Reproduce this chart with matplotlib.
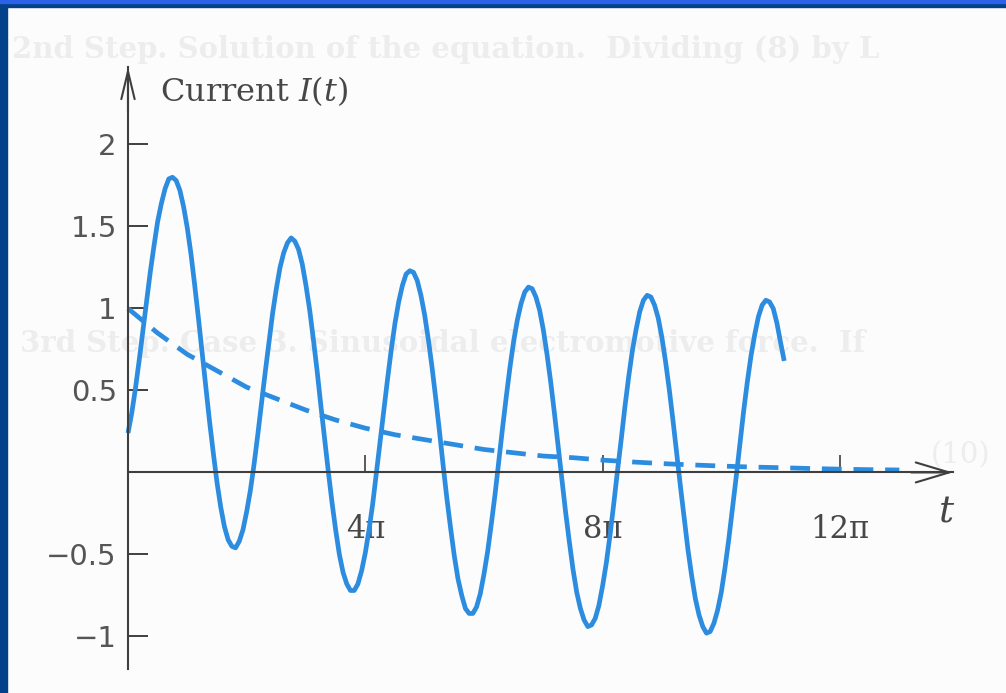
import matplotlib.pyplot as plt
from matplotlib.patches import Rectangle

plt.rcParams['mathtext.fontset'] = 'dejavuserif'

#////////////////////////////// DATOS //////////////////////////////
# tiempo en unidades de pi, una fila por cada pi
t_corriente = [
    0.0, 0.0625, 0.125, 0.1875, 0.25, 0.3125, 0.375, 0.4375, 0.5, 0.5625, 0.625, 0.6875, 0.75, 0.8125, 0.875, 0.9375,
    1.0, 1.0625, 1.125, 1.1875, 1.25, 1.3125, 1.375, 1.4375, 1.5, 1.5625, 1.625, 1.6875, 1.75, 1.8125, 1.875, 1.9375,
    2.0, 2.0625, 2.125, 2.1875, 2.25, 2.3125, 2.375, 2.4375, 2.5, 2.5625, 2.625, 2.6875, 2.75, 2.8125, 2.875, 2.9375,
    3.0, 3.0625, 3.125, 3.1875, 3.25, 3.3125, 3.375, 3.4375, 3.5, 3.5625, 3.625, 3.6875, 3.75, 3.8125, 3.875, 3.9375,
    4.0, 4.0625, 4.125, 4.1875, 4.25, 4.3125, 4.375, 4.4375, 4.5, 4.5625, 4.625, 4.6875, 4.75, 4.8125, 4.875, 4.9375,
    5.0, 5.0625, 5.125, 5.1875, 5.25, 5.3125, 5.375, 5.4375, 5.5, 5.5625, 5.625, 5.6875, 5.75, 5.8125, 5.875, 5.9375,
    6.0, 6.0625, 6.125, 6.1875, 6.25, 6.3125, 6.375, 6.4375, 6.5, 6.5625, 6.625, 6.6875, 6.75, 6.8125, 6.875, 6.9375,
    7.0, 7.0625, 7.125, 7.1875, 7.25, 7.3125, 7.375, 7.4375, 7.5, 7.5625, 7.625, 7.6875, 7.75, 7.8125, 7.875, 7.9375,
    8.0, 8.0625, 8.125, 8.1875, 8.25, 8.3125, 8.375, 8.4375, 8.5, 8.5625, 8.625, 8.6875, 8.75, 8.8125, 8.875, 8.9375,
    9.0, 9.0625, 9.125, 9.1875, 9.25, 9.3125, 9.375, 9.4375, 9.5, 9.5625, 9.625, 9.6875, 9.75, 9.8125, 9.875, 9.9375,
    10.0, 10.0625, 10.125, 10.1875, 10.25, 10.3125, 10.375, 10.4375, 10.5, 10.5625, 10.625, 10.6875, 10.75, 10.8125, 10.875, 10.9375,
    11.0, 11.06]
corriente = [
    0.24, 0.36, 0.51, 0.68, 0.86, 1.04, 1.22, 1.38, 1.53, 1.64, 1.73, 1.79, 1.80, 1.78, 1.72, 1.62,
    1.49, 1.33, 1.14, 0.94, 0.73, 0.52, 0.31, 0.12, -0.06, -0.21, -0.33, -0.41, -0.45, -0.46, -0.42, -0.35,
    -0.24, -0.11, 0.05, 0.23, 0.42, 0.61, 0.79, 0.97, 1.12, 1.25, 1.34, 1.40, 1.43, 1.41, 1.36, 1.27,
    1.14, 0.99, 0.81, 0.62, 0.41, 0.21, 0.01, -0.18, -0.35, -0.50, -0.61, -0.68, -0.72, -0.72, -0.68, -0.60,
    -0.49, -0.35, -0.19, 0.00, 0.19, 0.38, 0.57, 0.75, 0.91, 1.04, 1.14, 1.21, 1.23, 1.22, 1.17, 1.08,
    0.96, 0.81, 0.64, 0.45, 0.25, 0.04, -0.16, -0.34, -0.51, -0.65, -0.75, -0.83, -0.86, -0.86, -0.82, -0.74,
    -0.62, -0.48, -0.31, -0.13, 0.07, 0.27, 0.46, 0.64, 0.80, 0.93, 1.03, 1.10, 1.13, 1.12, 1.07, 0.99,
    0.87, 0.72, 0.55, 0.36, 0.16, -0.04, -0.24, -0.42, -0.59, -0.73, -0.83, -0.90, -0.94, -0.93, -0.89, -0.81,
    -0.69, -0.55, -0.38, -0.19, 0.01, 0.20, 0.40, 0.58, 0.74, 0.87, 0.98, 1.05, 1.08, 1.07, 1.02, 0.94,
    0.82, 0.67, 0.50, 0.31, 0.11, -0.09, -0.28, -0.47, -0.63, -0.77, -0.87, -0.94, -0.98, -0.97, -0.92, -0.84,
    -0.73, -0.58, -0.41, -0.22, -0.03, 0.17, 0.37, 0.55, 0.71, 0.84, 0.95, 1.02, 1.05, 1.04, 1.00, 0.91,
    0.79, 0.68]

# curva punteada (transitorio)
t_trans = [0.0, 0.5, 1.0, 1.5, 2.0, 2.5, 3.0, 3.5, 4.0, 4.5, 5.0, 5.5, 6.0, 6.5,
           7.0, 7.5, 8.0, 8.5, 9.0, 9.5, 10.0, 10.5, 11.0, 11.5, 12.0, 12.5, 13.0]
transitorio = [1.0, 0.85, 0.72, 0.62, 0.52, 0.45, 0.38, 0.32, 0.27, 0.23, 0.20, 0.17,
               0.14, 0.12, 0.10, 0.09, 0.075, 0.064, 0.054, 0.046, 0.039, 0.033, 0.029,
               0.024, 0.020, 0.017, 0.015]

y_ticks = [-1, -0.5, 0.5, 1, 1.5, 2]
y_labels = ['\u22121', '\u22120.5', '0.5', '1', '1.5', '2']
x_ticks = [4, 8, 12]
x_labels = ['4\u03c0', '8\u03c0', '12\u03c0']

azul = '#2c8de0'
gris = '#3f3f3f'
fondo = '#fcfcfc'
fantasma = '#ededed'

#////////////////////////////// GRAFICO //////////////////////////////
fig = plt.figure(figsize=(10.06, 6.93), dpi=100)
fig.patch.set_facecolor(fondo)
ax = fig.add_axes([0, 0, 1, 1])
ax.set_facecolor('none')
ax.set_xlim(-2.157, 14.798)
ax.set_ylim(-1.345, 2.881)

# texto fantasma de la pagina escaneada (muy tenue)
fig.text(0.012, 1 - 50 / 693, '2nd Step. Solution of the equation.  Dividing (8) by L',
         fontsize=21, color=fantasma, family='DejaVu Serif', fontweight='bold',
         va='center', zorder=-1)
fig.text(0.02, 1 - 343 / 693, '3rd Step. Case 3. Sinusoidal electromotive force.  If',
         fontsize=21, color=fantasma, family='DejaVu Serif', fontweight='bold',
         va='center', zorder=-1)
fig.text(0.925, 1 - 455 / 693, '(10)', fontsize=21, color=fantasma,
         family='DejaVu Serif', va='center', zorder=-1)

ax.plot(t_corriente, corriente, color=azul, lw=3.4, solid_capstyle='butt',
        solid_joinstyle='round', zorder=2)
ax.plot(t_trans, transitorio, color=azul, lw=3.4, dashes=(4.2, 2.5),
        dash_capstyle='butt', zorder=2)

# ejes con flecha
for s in ['top', 'right']:
    ax.spines[s].set_visible(False)
ax.spines['left'].set_position(('data', 0))
ax.spines['bottom'].set_position(('data', 0))
ax.spines['left'].set_bounds(-1.2, 2.47)
ax.spines['bottom'].set_bounds(0, 13.9)
for s in ['left', 'bottom']:
    ax.spines[s].set_color(gris)
    ax.spines[s].set_linewidth(1.5)

ax.annotate('', xy=(0, 2.473), xytext=(0, 2.2),
            arrowprops=dict(arrowstyle='->,head_length=1.0,head_width=0.24',
                            color=gris, lw=1.5, mutation_scale=20, shrinkA=0, shrinkB=0))
ax.annotate('', xy=(13.9, 0), xytext=(13.2, 0),
            arrowprops=dict(arrowstyle='->,head_length=1.2,head_width=0.36',
                            color=gris, lw=1.5, mutation_scale=20, shrinkA=0, shrinkB=0))

ax.set_yticks(y_ticks, labels=y_labels)
ax.tick_params(axis='y', direction='in', length=14.5, width=1.4, pad=8,
               labelsize=21, color=gris, labelcolor='#555555')
ax.set_xticks(x_ticks, labels=x_labels)
ax.tick_params(axis='x', direction='in', length=12, width=1.2, pad=30,
               labelsize=22, color=gris, labelcolor='#474747')
for lbl in ax.get_xticklabels():
    lbl.set_fontfamily('DejaVu Serif')
    lbl.set_bbox(dict(facecolor=fondo, edgecolor='none', pad=2))

fig.text(160 / 1006, 1 - 101 / 693, r'Current $I(t)$', fontsize=23,
         family='DejaVu Serif', va='baseline', color='#474747')
fig.text(947 / 1006, 1 - 512 / 693, r'$t$', fontsize=27, ha='center', va='center',
         color='#474747')

# borde azul de la diapositiva
fig.patches.append(Rectangle((0, 0), 7 / 1006, 1, transform=fig.transFigure,
                             color='#03418b', zorder=10))
fig.patches.append(Rectangle((0, 1 - 7 / 693), 1, 7 / 693, transform=fig.transFigure,
                             color='#03418b', zorder=10))
fig.patches.append(Rectangle((0, 1 - 3 / 693), 1, 3 / 693, transform=fig.transFigure,
                             color='#2b62e8', zorder=11))

fig.savefig('out.png', dpi=100, facecolor=fondo)
